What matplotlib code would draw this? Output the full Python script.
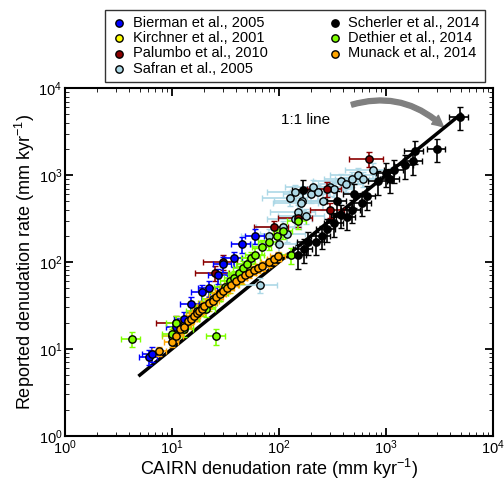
import matplotlib.pyplot as plt
import numpy as np

plt.rcParams['font.family'] = ['Liberation Sans', 'DejaVu Sans']
plt.rcParams['mathtext.fontset'] = 'custom'
plt.rcParams['mathtext.rm'] = 'Liberation Sans'

# CAIRN rate (x) vs reported rate (y), mm/kyr
bierman_x = [6.1, 6.5, 11, 13, 15, 19, 22, 27, 30, 38, 45, 60]
bierman_y = [8.1, 8.8, 18, 22, 33, 45, 50, 70, 95, 110, 160, 200]

kirchner_x = [10, 13, 17, 22, 28, 35, 45]
kirchner_y = [14, 19, 26, 34, 44, 55, 70]

palumbo_x = [11, 25, 30, 90, 150, 280, 700, 300]
palumbo_y = [20, 75, 100, 250, 320, 700, 1550, 400]

safran_x = [66, 80, 100, 110, 120, 127, 140, 150, 165, 180, 200, 208, 230, 260, 300, 330, 380, 420, 480, 550, 610, 750, 160, 140]
safran_y = [55, 200, 160, 250, 210, 550, 310, 380, 500, 340, 600, 735, 640, 500, 720, 700, 850, 800, 900, 1000, 910, 1150, 480, 640]

dethier_x = [4.2, 10, 11, 13, 15, 17, 19, 21, 24, 26, 28, 31, 35, 38, 42, 46, 50, 55, 60, 70, 80, 95, 110, 130, 150]
dethier_y = [13, 15, 20, 17, 22, 27, 30, 29, 38, 14, 44, 52, 60, 66, 75, 85, 95, 110, 120, 150, 170, 200, 230, 120, 300]

munack_x = [7.6, 10, 11, 12, 13, 14, 15, 16, 17, 18, 19, 20, 22, 24, 26, 28, 30, 33, 36, 40, 44, 48, 53, 58, 64, 70, 80, 90, 98]
munack_y = [9.4, 12, 14, 17, 18, 21, 22, 24, 26, 27, 29, 31, 34, 36, 40, 43, 46, 50, 54, 60, 65, 70, 75, 80, 85, 90, 100, 108, 116]

scherler_x = [4900, 3000, 1850, 1800, 1500, 1200, 1000, 1100, 850, 660, 600, 480, 430, 380, 330, 280, 250, 220, 185, 170, 167, 500, 350, 150]
scherler_y = [4700, 2000, 1900, 1450, 1300, 1150, 1050, 900, 850, 570, 480, 400, 330, 350, 280, 240, 200, 170, 170, 140, 680, 600, 500, 120]

series = [
    ("Bierman et al., 2005", bierman_x, bierman_y, "#0000ff", "#0000ff"),
    ("Kirchner et al., 2001", kirchner_x, kirchner_y, "#ffff00", "#cccc00"),
    ("Palumbo et al., 2010", palumbo_x, palumbo_y, "#8b0000", "#8b0000"),
    ("Safran et al., 2005", safran_x, safran_y, "#add8e6", "#add8e6"),
    ("Scherler et al., 2014", scherler_x, scherler_y, "#000000", "#000000"),
    ("Dethier et al., 2014", dethier_x, dethier_y, "#7fff00", "#7fff00"),
    ("Munack et al., 2014", munack_x, munack_y, "#ffa500", "#ffa500"),
]
xerr_frac = {"Safran et al., 2005": 0.45, "Palumbo et al., 2010": 0.35, "Munack et al., 2014": 0.15}
yerr_frac = {"Scherler et al., 2014": 0.3, "Munack et al., 2014": 0.12}

fig = plt.figure(figsize=(5.04, 4.87), dpi=100)
ax = fig.add_axes([0.129, 0.105, 0.849, 0.714])

ax.plot([5, 5000], [5, 5000], color="black", lw=2.5, zorder=5)

handles = {}
draw_order = ["Safran et al., 2005", "Palumbo et al., 2010", "Kirchner et al., 2001",
              "Bierman et al., 2005", "Dethier et al., 2014", "Munack et al., 2014",
              "Scherler et al., 2014"]
lookup = {s[0]: s for s in series}
for name in draw_order:
    _, xs, ys, fc, ec = lookup[name]
    xs = np.array(xs, float)
    ys = np.array(ys, float)
    fx = xerr_frac.get(name, 0.2)
    fy = yerr_frac.get(name, 0.2)
    ax.errorbar(xs, ys, xerr=[xs * fx, xs * fx], yerr=[ys * fy, ys * fy],
                fmt="none", ecolor=ec, elinewidth=1.2, capsize=2, zorder=6)
    h = ax.scatter(xs, ys, s=28, c=fc, edgecolors="black", linewidths=1, zorder=7)
    handles[name] = h

ax.set_xscale("log")
ax.set_yscale("log")
ax.set_xlim(1, 1e4)
ax.set_ylim(1, 1e4)
for sp in ax.spines.values():
    sp.set_linewidth(1.5)
ax.tick_params(which="both", direction="in", top=True, right=True, labelsize=10.5, pad=2)
ax.tick_params(which="major", length=6, width=1.3)
ax.tick_params(which="minor", length=3)
ax.set_xlabel("CAIRN denudation rate (mm kyr$^{-1}$)", fontsize=13, labelpad=0)
ax.set_ylabel("Reported denudation rate (mm kyr$^{-1}$)", fontsize=13, labelpad=1)

ax.text(300, 4300, "1:1 line", ha="right", va="center", fontsize=11)
ax.annotate("", xy=(3600, 3400), xytext=(450, 6300),
            arrowprops=dict(arrowstyle="simple,head_width=0.8,head_length=0.8,tail_width=0.35",
                            color="grey", connectionstyle="arc3,rad=-0.3"))

names = [s[0] for s in series]
fig.legend([handles[n] for n in names], names, ncol=2, loc="upper center",
           bbox_to_anchor=(0.585, 0.995), fontsize=10.5, frameon=True, fancybox=False,
           edgecolor="black", handletextpad=0.3, columnspacing=4, labelspacing=0.1,
           borderpad=0.4, handlelength=1.2)

fig.savefig("out.png", dpi=100)
